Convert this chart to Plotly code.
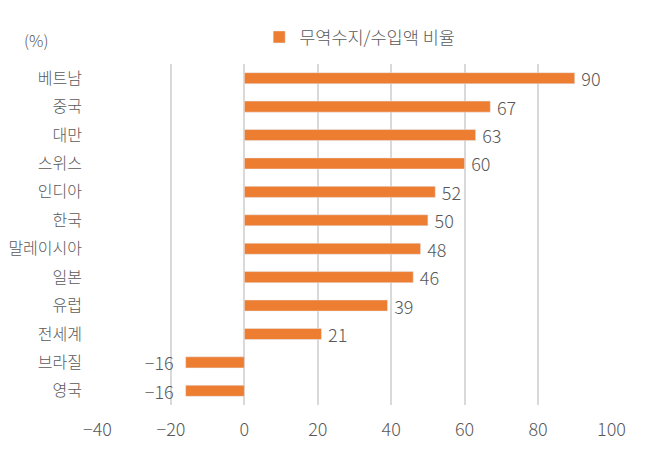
import plotly.graph_objects as go

countries = ['베트남', '중국', '대만', '스위스', '인디아', '한국', '말레이시아', '일본', '유럽', '전세계', '브라질', '영국']
ratio = [90, 67, 63, 60, 52, 50, 48, 46, 39, 21, -16, -16]
x_ticks = [-40, -20, 0, 20, 40, 60, 80, 100]

font_name = 'Noto Sans CJK KR'
gray = '#595959'
orange = '#ED7D31'


def fmt(v):
    return str(v).replace('-', '−')


# a bit of breathing room between the bar end and its label
bar_text = ['\u2009' + fmt(v) if v >= 0 else fmt(v) + '\u2002' for v in ratio]

fig = go.Figure(
    data=[
        go.Bar(
            y=countries,
            x=ratio,
            orientation='h',
            name='무역수지/수입액 비율',
            marker=dict(color=orange),
            width=0.39,
            text=bar_text,
            textposition='outside',
            constraintext='none',
            textfont=dict(family=font_name, size=18, color=gray, weight=300),
            cliponaxis=False,
        )
    ]
)

fig.update_layout(
    width=661,
    height=441,
    margin=dict(l=89, r=57, t=56, b=44),
    paper_bgcolor='white',
    plot_bgcolor='white',
    font=dict(family=font_name, size=16, color=gray, weight=300),
    showlegend=True,
    legend=dict(
        orientation='h',
        xref='container', yref='container',
        x=0.38, xanchor='left',
        y=0.934, yanchor='middle',
        font=dict(family=font_name, size=17.5, color=gray, weight=300),
        itemwidth=30,
    ),
    annotations=[
        dict(
            xref='paper', yref='paper',
            x=-0.118, y=1.07,
            xanchor='center', yanchor='middle',
            text='(%)', showarrow=False,
            font=dict(family=font_name, size=16, color=gray, weight=300),
        )
    ],
)

fig.update_xaxes(
    range=[-40.15, 100.15],
    tickvals=x_ticks,
    ticktext=[fmt(v) for v in x_ticks],
    showgrid=True,
    gridcolor='#D9D9D9',
    gridwidth=2,
    zeroline=False,
    showline=False,
    automargin=False,
    ticklabelstandoff=12,
    tickfont=dict(size=18, color=gray, weight=300),
)

fig.update_yaxes(
    categoryorder='array',
    categoryarray=countries,
    autorange='reversed',
    showgrid=False,
    zeroline=False,
    showline=False,
    automargin=False,
    ticklabelstandoff=14,
    tickfont=dict(size=16, color=gray, weight=300),
)

fig.write_html('out.html')
